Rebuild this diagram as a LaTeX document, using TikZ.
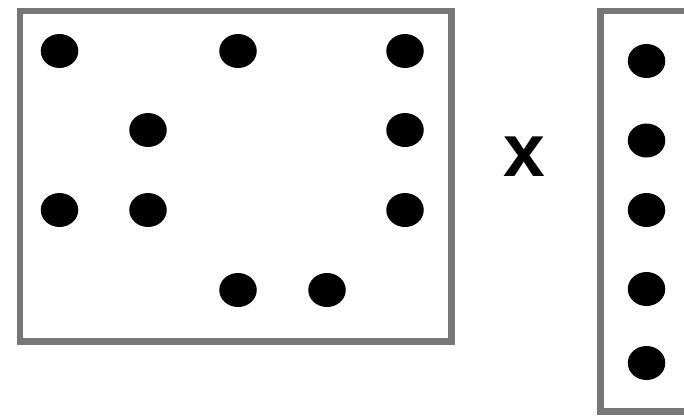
\documentclass[tikz,border=0pt]{standalone}
\usepackage{fontspec}
\setmainfont{Liberation Sans}
\usetikzlibrary{shapes.geometric}
\definecolor{boxgray}{HTML}{777777}
\begin{document}
\begin{tikzpicture}[x=1pt,y=-1pt,
  dot/.style={ellipse,fill=black,inner sep=0pt,minimum width=37.5pt,minimum height=34pt},
  frame/.style={draw=boxgray,line width=6.5pt}]
\useasboundingbox (0,0) rectangle (684,415);
\clip (0,0) rectangle (684,415);
\draw[frame] (20,11) rectangle (451.5,341.5);
\draw[frame] (600.5,11) rectangle (720,411.5);
% left box dots
\node[dot] (a1) at (59.5,51) {};
\node[dot] (a2) at (238,51) {};
\node[dot] (a3) at (405,51) {};
\node[dot] (b1) at (148,130) {};
\node[dot] (b2) at (405,130) {};
\node[dot] (c1) at (59.5,210) {};
\node[dot] (c2) at (148,210) {};
\node[dot] (c3) at (405,210) {};
\node[dot] (d1) at (238,290) {};
\node[dot] (d2) at (327,290) {};
% right box dots
\node[dot] (r1) at (646.5,61) {};
\node[dot] (r2) at (646.5,140.5) {};
\node[dot] (r3) at (646.5,210) {};
\node[dot] (r4) at (646.5,289) {};
\node[dot] (r5) at (646.5,363) {};
% times sign
\node[inner sep=0pt,font=\fontsize{75}{75}\selectfont\bfseries] (times) at (524,157) {x};
\end{tikzpicture}
\end{document}
